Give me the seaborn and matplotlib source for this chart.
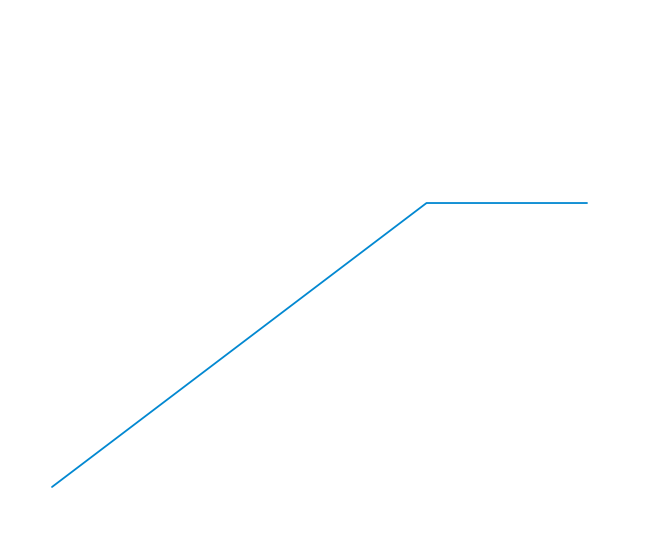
import matplotlib
matplotlib.use("Agg")
import pandas as pd
import seaborn as sns
from matplotlib import pyplot as plt

sns.set_theme(style="white")

x_vals = [0, 7, 10]
y_vals = [0, 1, 1]


def main():
    df = pd.DataFrame({"x": x_vals, "y": y_vals})

    fig = plt.figure(figsize=(6.6, 5.5), dpi=100)
    ax = fig.add_axes([0, 0, 1, 1])
    sns.lineplot(data=df, x="x", y="y", ax=ax, color="#0288d1",
                 linewidth=1.3, sort=False)

    ax.set_xlim(-0.972, 11.364)
    ax.set_ylim(-0.222, 1.715)
    ax.set_axis_off()

    fig.savefig("out.png", dpi=100, facecolor="white")


if __name__ == '__main__':
    main()
